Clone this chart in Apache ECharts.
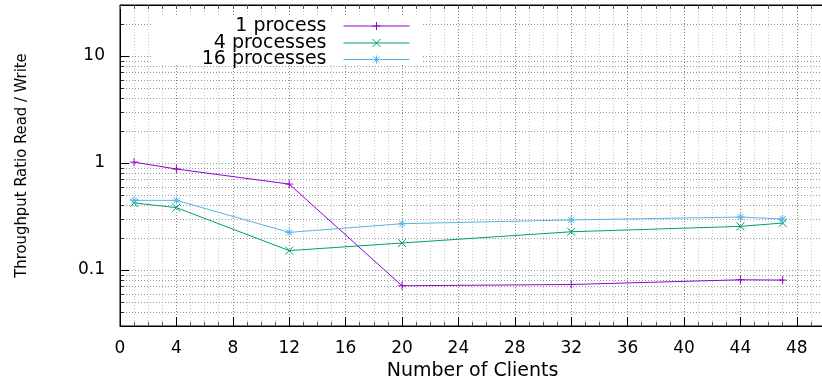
<!DOCTYPE html>
<html><head><meta charset="utf-8">
<script src="https://cdn.jsdelivr.net/npm/echarts@6/dist/echarts.min.js"></script>
<style>html,body{margin:0;padding:0;background:#fff}#c{width:822px;height:377px}</style>
</head><body><div id="c"></div>
<script>
const clients = [1, 4, 12, 20, 32, 44, 47];
const oneProcess = [1.02, 0.879, 0.636, 0.0713, 0.0733, 0.0811, 0.0806];
const fourProcesses = [0.424, 0.383, 0.152, 0.179, 0.228, 0.256, 0.275];
const sixteenProcesses = [0.448, 0.448, 0.225, 0.271, 0.294, 0.313, 0.300];
const seriesNames = ['1 process', '4 processes', '16 processes'];
const seriesColors = ['#9400d3', '#009e73', '#56b4e9'];
const seriesSymbols = [
  'path://M0,4L8,4M4,0L4,8',
  'path://M0,0L8,8M8,0L0,8',
  'path://M0,4L8,4M4,0L4,8M1,1L7,7M7,1L1,7'
];
const yMinorGrid = [0.04, 0.05, 0.06, 0.07, 0.08, 0.09,
  0.2, 0.3, 0.4, 0.5, 0.6, 0.7, 0.8, 0.9,
  2, 3, 4, 5, 6, 7, 8, 9, 20];
const xTitle = 'Number of Clients';
const yTitle = 'Throughput Ratio Read / Write';

const seriesValues = [oneProcess, fourProcesses, sixteenProcesses];
const font = 'DejaVu Sans';
const chart = echarts.init(document.getElementById('c'), null, {renderer: 'canvas'});

const series = seriesNames.map((name, i) => ({
  name: name,
  type: 'line',
  data: clients.map((x, j) => [x, seriesValues[i][j]]),
  symbol: seriesSymbols[i],
  symbolSize: 8,
  showAllSymbol: true,
  lineStyle: {color: seriesColors[i], width: 1},
  itemStyle: {color: seriesColors[i], borderColor: seriesColors[i], borderWidth: 1},
  z: 3
}));
// minor log grid lines plus short minor ticks on the left axis
const minorGridData = yMinorGrid.map(v => ({yAxis: v}));
const minorTickData = yMinorGrid.map(v => [
  {coord: [0, v], lineStyle: {type: 'solid', color: '#333', width: 1}},
  {coord: [0.3, v]}
]);
series.push({
  name: 'minor-grid',
  type: 'line',
  data: [],
  z: 0,
  silent: true,
  markLine: {
    silent: true,
    z: 0,
    symbol: ['none', 'none'],
    label: {show: false},
    emphasis: {disabled: true},
    lineStyle: {color: '#999', type: [1, 2], width: 1},
    data: minorGridData.concat(minorTickData)
  }
});

const legendTops = [16.5, 33.5, 50];
const legends = seriesNames.map((n, i) => ({
  data: [n],
  orient: 'vertical',
  right: 412,
  top: legendTops[i],
  itemWidth: 66,
  itemHeight: 10,
  align: 'right',
  padding: 0,
  selectedMode: false,
  lineStyle: {width: 1},
  itemStyle: {borderWidth: 1},
  textStyle: {fontFamily: font, fontSize: 19, color: '#000', padding: [0, 12, 0, 0], lineHeight: 16}
}));

chart.setOption({
  animation: false,
  backgroundColor: '#fff',
  grid: {left: 120, right: -3, top: 5, bottom: 51, show: true, borderColor: '#000', borderWidth: 1,
    containLabel: false, outerBoundsMode: 'none'},
  legend: legends,
  graphic: [{type: 'rect', left: 153, top: 15, z: 1, silent: true,
    shape: {width: 270, height: 48}, style: {fill: '#fff'}}],
  xAxis: [{
    type: 'value', position: 'bottom', min: 0, max: 50, interval: 4,
    name: xTitle, nameLocation: 'middle', nameGap: 34,
    nameTextStyle: {fontFamily: font, fontSize: 19, color: '#000'},
    axisLine: {show: true, lineStyle: {color: '#000', width: 1}},
    axisTick: {show: true, inside: true, length: 9, lineStyle: {color: '#000'}},
    minorTick: {show: true, splitNumber: 4, length: 4, lineStyle: {color: '#555'}},
    axisLabel: {fontFamily: font, fontSize: 17, color: '#000', margin: 14, showMaxLabel: false},
    splitLine: {show: false}
  }, {
    type: 'value', position: 'top', min: 0, max: 50, interval: 1,
    axisLine: {show: true, lineStyle: {color: '#000', width: 1}},
    axisTick: {show: true, inside: true, length: 4, lineStyle: {color: '#555'}},
    axisLabel: {show: false},
    splitLine: {show: true, lineStyle: {color: ['#888', '#c8c8c8', '#c8c8c8', '#c8c8c8'], type: [1, 2], width: 1}}
  }],
  yAxis: {
    type: 'log', logBase: 10, min: 0.03, max: 30,
    name: yTitle, nameLocation: 'middle', nameGap: 90,
    nameTextStyle: {fontFamily: "'DejaVu Sans Condensed', sans-serif", fontSize: 16.5, color: '#000'},
    axisLine: {show: true, lineStyle: {color: '#000', width: 1}},
    axisTick: {show: true, inside: true, length: 9, lineStyle: {color: '#000'}},
    axisLabel: {fontFamily: font, fontSize: 17, color: '#000', margin: 15, showMinLabel: false, showMaxLabel: false},
    splitLine: {show: true, lineStyle: {color: '#999', type: [1, 2], width: 1}}
  },
  series: series
});
</script>
</body></html>
